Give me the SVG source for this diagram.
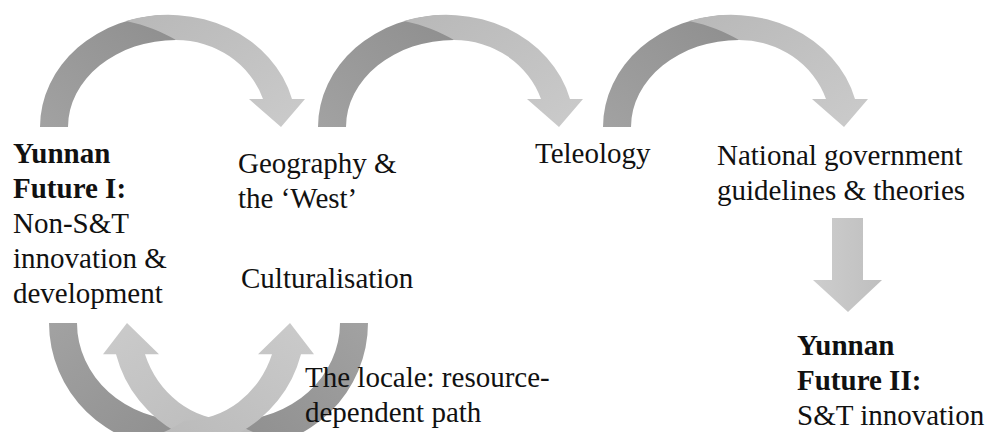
<svg xmlns="http://www.w3.org/2000/svg" width="989" height="432" viewBox="0 0 989 432">
<defs>
<linearGradient id="gDark" x1="0" y1="1" x2="1" y2="0">
<stop offset="0" stop-color="#a2a2a2"/>
<stop offset="1" stop-color="#8e8e8e"/>
</linearGradient>
<linearGradient id="gLight" x1="0" y1="0" x2="1" y2="1">
<stop offset="0" stop-color="#b8b8b8"/>
<stop offset="1" stop-color="#cbcbcb"/>
</linearGradient>
<linearGradient id="gDown" x1="0" y1="0" x2="1" y2="0">
<stop offset="0" stop-color="#cdcdcd"/>
<stop offset="1" stop-color="#bfbfbf"/>
</linearGradient>
<path id="dark" d="M40,127 A128,112 0 0 1 168,15 L176,40 A108,87 0 0 0 68,127 Z" fill="url(#gDark)"/>
<path id="light" d="M126,21 A128,112 0 0 1 292,99 L305,99 L281,127 L249,99 L263,99 A92,87 0 0 0 176,40 C162,32 146,25 126,21 Z" fill="url(#gLight)"/>
</defs>
<style>
text{font-family:"Liberation Serif","Times New Roman",serif;font-size:29px;fill:#111}
.b{font-weight:bold}
</style>
<g id="connectors">
<g id="arc1"><use href="#dark"/><use href="#light"/></g>
<g id="arc2" transform="translate(278,0)"><use href="#dark"/><use href="#light"/></g>
<g id="arc3" transform="translate(563,0)"><use href="#dark"/><use href="#light"/></g>
<g id="loop">
<use href="#dark" transform="translate(9,465.24) scale(1,-1.12)"/>
<use href="#dark" transform="translate(408,465.24) scale(-1,-1.12)"/>
<use href="#light" transform="translate(408,465.24) scale(-1,-1.12)"/>
<use href="#light" transform="translate(9,465.24) scale(1,-1.12)"/>
</g>
<path id="down" d="M832,218 L863,218 L863,280 L882,280 L848,312 L813,280 L832,280 Z" fill="url(#gDown)"/>
</g>
<g id="future1">
<text class="b" x="13" y="163">Yunnan</text>
<text class="b" x="13" y="198">Future I:</text>
<text x="13" y="233">Non-S&amp;T</text>
<text x="13" y="268">innovation &amp;</text>
<text x="13" y="303">development</text>
</g>
<g id="geography">
<text x="238" y="173">Geography &amp;</text>
<text x="238" y="208">the ‘West’</text>
</g>
<g id="culturalisation"><text x="241" y="288">Culturalisation</text></g>
<g id="teleology"><text x="535" y="163">Teleology</text></g>
<g id="national">
<text x="717" y="165">National government</text>
<text x="717" y="200">guidelines &amp; theories</text>
</g>
<g id="locale">
<text x="305" y="387">The locale: resource-</text>
<text x="305" y="422">dependent path</text>
</g>
<g id="future2">
<text class="b" x="797" y="355">Yunnan</text>
<text class="b" x="797" y="390">Future II:</text>
<text x="797" y="425">S&amp;T innovation</text>
</g>
</svg>
